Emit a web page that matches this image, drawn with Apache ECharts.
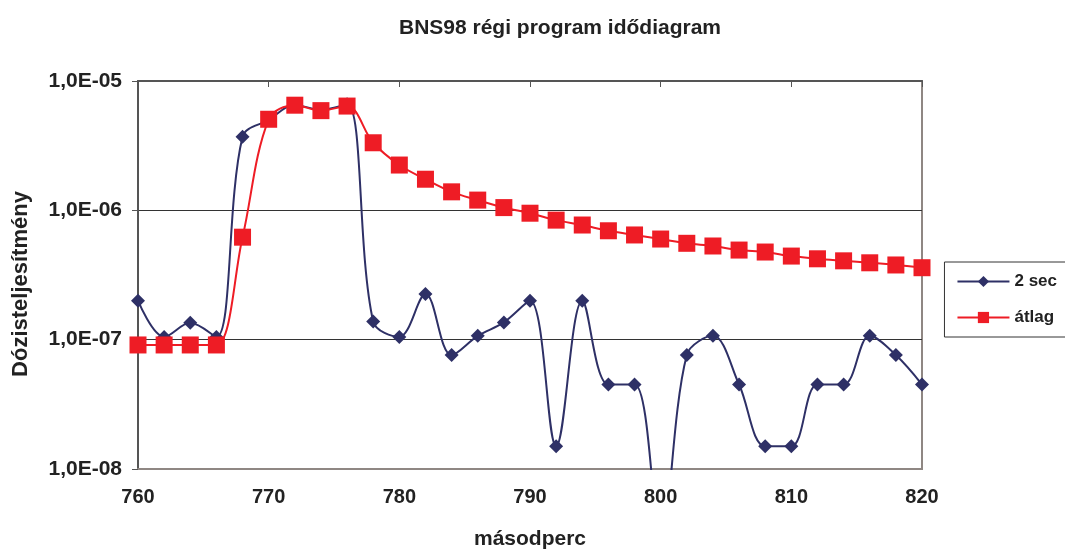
<!DOCTYPE html>
<html><head><meta charset="utf-8">
<script src="https://cdn.jsdelivr.net/npm/echarts@6/dist/echarts.min.js"></script>
<style>html,body{margin:0;padding:0;background:#fff}#c{width:1065px;height:549px}</style>
</head><body><div id="c"></div>
<script>
const seconds = [760,762,764,766,768,770,772,774,776,778,780,782,784,786,788,790,792,794,796,798,800,802,804,806,808,810,812,814,816,818,820];
const sec2 = [2.0e-7,1.05e-7,1.35e-7,1.05e-7,3.7e-6,5.0e-6,6.5e-6,6.0e-6,6.6e-6,1.38e-7,1.05e-7,2.25e-7,7.6e-8,1.07e-7,1.36e-7,2.0e-7,1.5e-8,2.0e-7,4.5e-8,4.5e-8,3.0e-9,7.6e-8,1.07e-7,4.5e-8,1.5e-8,1.5e-8,4.5e-8,4.5e-8,1.07e-7,7.6e-8,4.5e-8];
const atlag = [9.1e-8,9.1e-8,9.1e-8,9.1e-8,6.2e-7,5.06e-6,6.5e-6,5.9e-6,6.4e-6,3.33e-6,2.24e-6,1.74e-6,1.39e-6,1.2e-6,1.05e-6,9.5e-7,8.4e-7,7.7e-7,6.95e-7,6.45e-7,6.0e-7,5.56e-7,5.3e-7,4.93e-7,4.76e-7,4.43e-7,4.22e-7,4.07e-7,3.93e-7,3.78e-7,3.6e-7];
const yTickLabels = {'-8':'1,0E-08','-7':'1,0E-07','-6':'1,0E-06','-5':'1,0E-05'};
const seriesNames = ['2 sec','átlag'];
const titleText = 'BNS98 régi program idődiagram';
const xName = 'másodperc';
const yName = 'Dózisteljesítmény';

const font = 'Liberation Sans, Arial, sans-serif';
const chart = echarts.init(document.getElementById('c'));
chart.setOption({
  animation:false,
  title:{text:titleText,left:555,top:13,textAlign:'center',
    textStyle:{fontFamily:font,fontSize:21,fontWeight:'bold',color:'#222'}},
  legend:{right:-2,top:262,orient:'vertical',itemWidth:52,itemHeight:14,itemGap:19,
    padding:[11,10,11,12],borderColor:'#333',borderWidth:1,
    textStyle:{fontFamily:font,fontSize:17,fontWeight:'bold',color:'#222'},
    data:seriesNames},
  grid:{left:138,right:143,top:81,bottom:80,outerBoundsMode:'none',containLabel:false,
    show:true,borderColor:'#8f8783',borderWidth:2},
  xAxis:[{type:'value',min:760,max:820,interval:10,position:'bottom',
    name:xName,nameLocation:'middle',nameGap:60,
    nameTextStyle:{fontFamily:font,fontSize:21,fontWeight:'bold',color:'#222'},
    axisLine:{lineStyle:{color:'#8f8783',width:2}},
    axisTick:{show:false},
    axisLabel:{fontFamily:font,fontSize:20,fontWeight:'bold',color:'#222',margin:18},
    splitLine:{show:false}},
   {type:'value',min:760,max:820,interval:10,position:'top',
    axisLine:{show:true,lineStyle:{color:'#555',width:2}},
    axisTick:{show:true,inside:true,length:6,lineStyle:{color:'#555'}},
    axisLabel:{show:false},splitLine:{show:false}}],
  yAxis:{type:'log',logBase:10,min:1e-8,max:1e-5,
    name:yName,nameLocation:'middle',nameGap:106,nameRotate:90,
    nameTextStyle:{fontFamily:font,fontSize:22,fontWeight:'bold',color:'#222',padding:[0,18,0,0]},
    axisLine:{show:true,lineStyle:{color:'#555',width:2}},
    axisTick:{show:true,length:6,lineStyle:{color:'#555'}},
    axisLabel:{fontFamily:font,fontSize:21,fontWeight:'bold',color:'#222',margin:16,
      formatter:v=>yTickLabels[String(Math.round(Math.log10(v)))]||''},
    splitLine:{show:true,lineStyle:{color:'#333',width:1}}},
  series:[
    {name:seriesNames[0],type:'line',smooth:0.35,clip:true,
     data:seconds.map((x,i)=>[x,sec2[i]]),
     symbol:'diamond',symbolSize:14,
     lineStyle:{color:'#2e3066',width:2},itemStyle:{color:'#2e3066'},z:2},
    {name:seriesNames[1],type:'line',smooth:0.35,clip:true,
     data:seconds.map((x,i)=>[x,atlag[i]]),
     symbol:'rect',symbolSize:17,
     lineStyle:{color:'#ee1c25',width:2},itemStyle:{color:'#ee1c25'},z:3}
  ]
});
</script></body></html>
